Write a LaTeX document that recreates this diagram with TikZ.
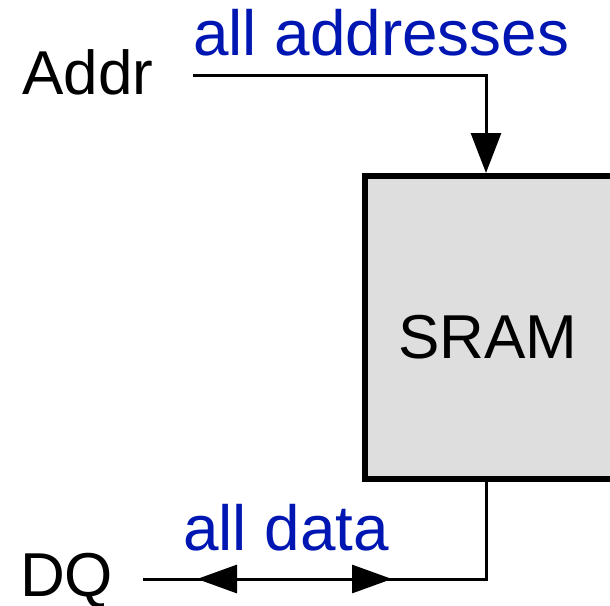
\documentclass[tikz,border=0pt]{standalone}
\usepackage{fontspec}
\setmainfont{Liberation Sans}
\usetikzlibrary{arrows.meta}
\definecolor{labelblue}{RGB}{0,22,178}
\definecolor{boxgray}{RGB}{222,222,222}
\tikzset{
  txt/.style={inner sep=0pt, anchor=base west, font=\fontsize{62}{70}\selectfont},
  sig/.style={txt, text=black},
  bus/.style={txt, text=labelblue, font=\fontsize{63.8}{70}\selectfont},
  wire/.style={line width=3pt, line cap=butt, line join=miter},
  headdown/.style={-{Triangle[length=40pt,width=30pt]}},
  head/.style={-{Triangle[length=40pt,width=28pt]}},
  block/.style={draw=black, fill=boxgray, line width=6pt, inner sep=0pt,
    minimum width=248pt, minimum height=302.5pt}
}
\begin{document}
\begin{tikzpicture}[x=1pt,y=-1pt]
  \useasboundingbox (0,0) rectangle (610,605);
  \clip (0,0) rectangle (610,605);

  % memory block (runs past the right edge)
  \node[block] (sram) at (489,327.25) {};
  \node[txt, anchor=base] (sramtxt) at (488,358) {SRAM};

  % column where both wires meet the block
  \coordinate (port) at (486,0);

  % address input
  \node[sig] (addr) at (22,94) {Addr};
  \node[bus] (alladdr) at (193,55) {all addresses};
  \coordinate (addrin) at (193,75);
  \draw[wire, headdown] (addrin) -| (port |- sram.north);

  % data port
  \node[sig] (dq) at (20,596) {DQ};
  \node[bus] (alldata) at (183,550) {all data};
  \coordinate (dqin) at (143,579);
  \draw[wire] (port |- sram.south) |- (dqin);

  % bidirectional heads on the data line
  \coordinate (lbase) at (237,579);
  \coordinate (ltip) at (197,579);
  \coordinate (rbase) at (352,579);
  \coordinate (rtip) at (392,579);
  \draw[wire, head] (lbase) -- (ltip);
  \draw[wire, head] (rbase) -- (rtip);
\end{tikzpicture}
\end{document}
